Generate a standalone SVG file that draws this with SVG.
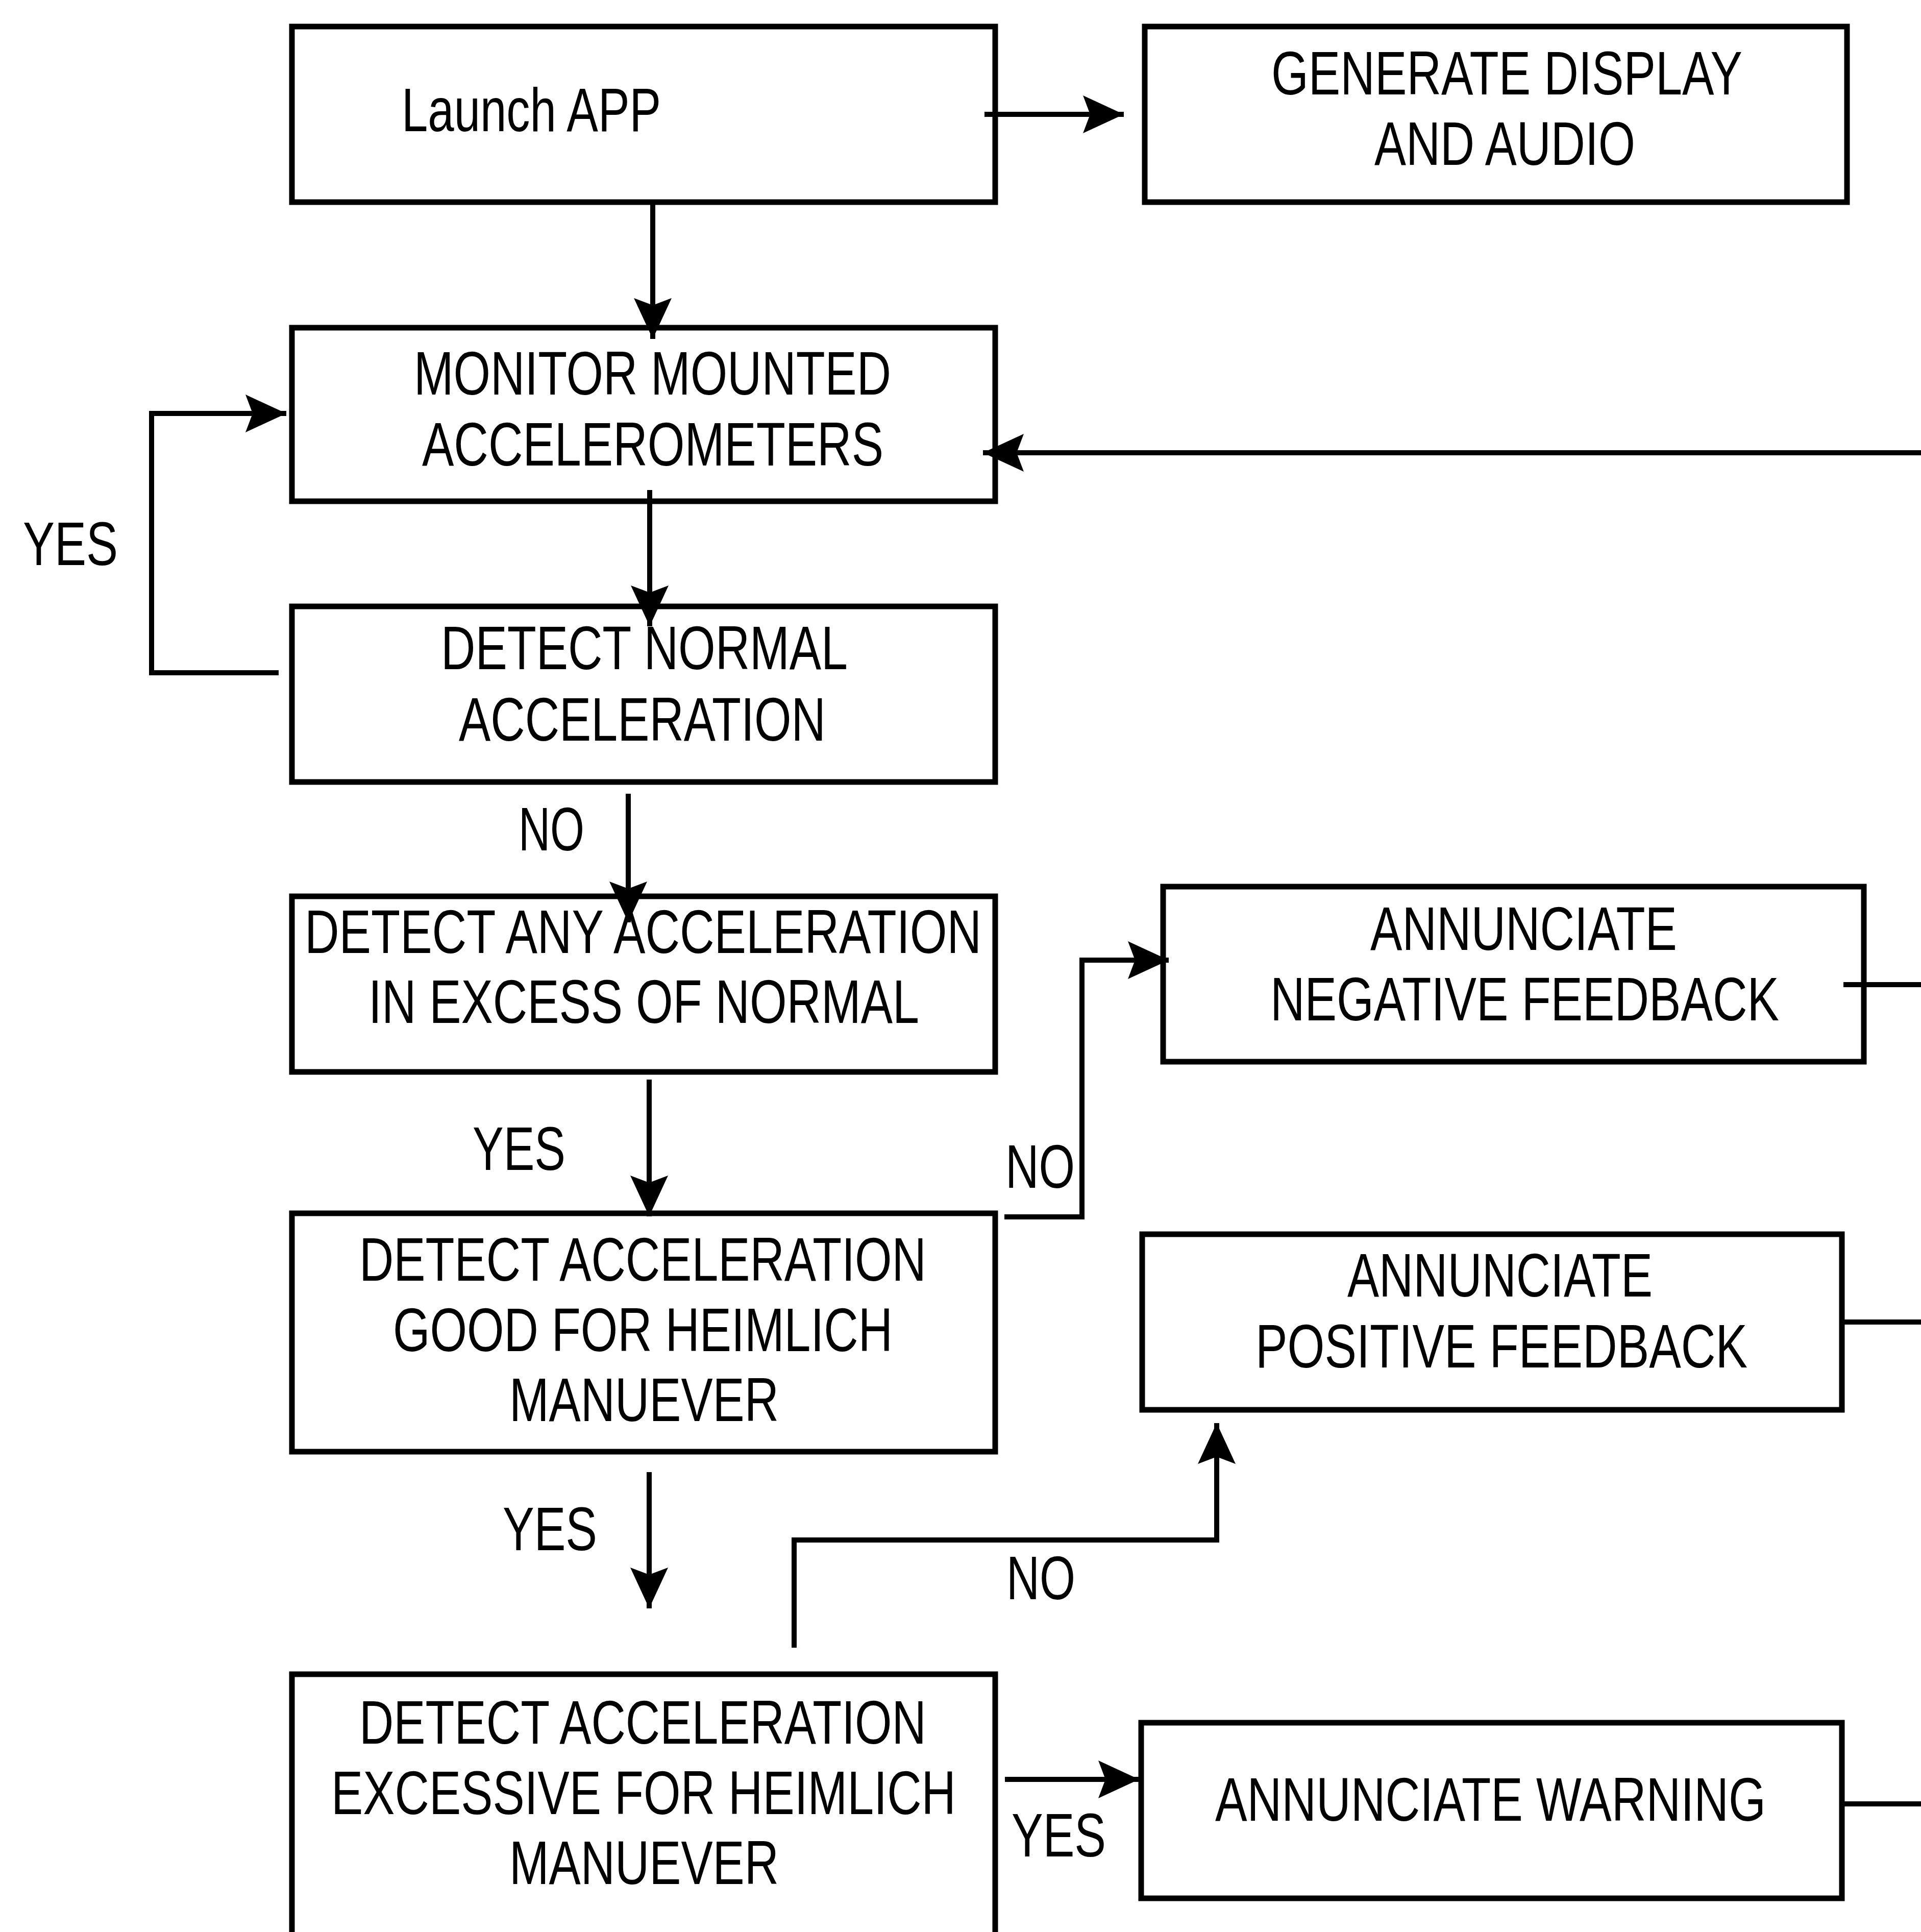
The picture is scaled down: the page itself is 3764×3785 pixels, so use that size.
<svg xmlns="http://www.w3.org/2000/svg" width="3764" height="3785" viewBox="0 0 3764 3785">
<style>
.box{fill:#fff;stroke:#000;stroke-width:11}
.t{font-family:"Liberation Sans",Arial,sans-serif;font-size:120px;fill:#000}
.c{fill:none;stroke:#000;stroke-width:10}
</style>
<defs>
<marker id="ah" markerUnits="userSpaceOnUse" markerWidth="80" markerHeight="74" refX="80" refY="37" orient="auto" overflow="visible">
<path d="M80,37 L0,0 L14,37 L0,74 Z" fill="#000"/>
</marker>
</defs>
<rect width="3764" height="3785" fill="#fff"/>
<g id="launch">
<rect class="box" x="572" y="52" width="1378" height="344"/>
<text class="t" x="787" y="257" textLength="508" lengthAdjust="spacingAndGlyphs">Launch APP</text>
</g>
<g id="generate">
<rect class="box" x="2243" y="52" width="1376" height="344"/>
<text class="t" x="2491" y="185" textLength="923" lengthAdjust="spacingAndGlyphs">GENERATE DISPLAY</text>
<text class="t" x="2693" y="323" textLength="511" lengthAdjust="spacingAndGlyphs">AND AUDIO</text>
</g>
<g id="monitor">
<rect class="box" x="572" y="642" width="1378" height="340"/>
<text class="t" x="811" y="773" textLength="935" lengthAdjust="spacingAndGlyphs">MONITOR MOUNTED</text>
<text class="t" x="827" y="912" textLength="904" lengthAdjust="spacingAndGlyphs">ACCELEROMETERS</text>
</g>
<g id="normal">
<rect class="box" x="572" y="1188" width="1378" height="344"/>
<text class="t" x="864" y="1311" textLength="797" lengthAdjust="spacingAndGlyphs">DETECT NORMAL</text>
<text class="t" x="899" y="1451" textLength="719" lengthAdjust="spacingAndGlyphs">ACCELERATION</text>
</g>
<g id="excess">
<rect class="box" x="572" y="1756" width="1378" height="344"/>
<text class="t" x="597" y="1867" textLength="1326" lengthAdjust="spacingAndGlyphs">DETECT ANY ACCELERATION</text>
<text class="t" x="722" y="2004" textLength="1079" lengthAdjust="spacingAndGlyphs">IN EXCESS OF NORMAL</text>
</g>
<g id="good">
<rect class="box" x="572" y="2377" width="1378" height="467"/>
<text class="t" x="704" y="2509" textLength="1111" lengthAdjust="spacingAndGlyphs">DETECT ACCELERATION</text>
<text class="t" x="770" y="2647" textLength="979" lengthAdjust="spacingAndGlyphs">GOOD FOR HEIMLICH</text>
<text class="t" x="998" y="2784" textLength="528" lengthAdjust="spacingAndGlyphs">MANUEVER</text>
</g>
<g id="excessive">
<rect class="box" x="572" y="3280" width="1378" height="560"/>
<text class="t" x="704" y="3416" textLength="1111" lengthAdjust="spacingAndGlyphs">DETECT ACCELERATION</text>
<text class="t" x="649" y="3554" textLength="1224" lengthAdjust="spacingAndGlyphs">EXCESSIVE FOR HEIMLICH</text>
<text class="t" x="998" y="3691" textLength="528" lengthAdjust="spacingAndGlyphs">MANUEVER</text>
</g>
<g id="negative">
<rect class="box" x="2279" y="1737" width="1373" height="343"/>
<text class="t" x="2685" y="1861" textLength="601" lengthAdjust="spacingAndGlyphs">ANNUNCIATE</text>
<text class="t" x="2489" y="1999" textLength="997" lengthAdjust="spacingAndGlyphs">NEGATIVE FEEDBACK</text>
</g>
<g id="positive">
<rect class="box" x="2238" y="2418" width="1371" height="344"/>
<text class="t" x="2640" y="2540" textLength="598" lengthAdjust="spacingAndGlyphs">ANNUNCIATE</text>
<text class="t" x="2460" y="2679" textLength="964" lengthAdjust="spacingAndGlyphs">POSITIVE FEEDBACK</text>
</g>
<g id="warning">
<rect class="box" x="2236" y="3375" width="1373" height="344"/>
<text class="t" x="2381" y="3567" textLength="1079" lengthAdjust="spacingAndGlyphs">ANNUNCIATE WARNING</text>
</g>
<g id="connectors">
<path class="c" d="M1929,224 H2202" marker-end="url(#ah)"/>
<path class="c" d="M1279,396 V664" marker-end="url(#ah)"/>
<path class="c" d="M1273,960 V1227" marker-end="url(#ah)"/>
<path class="c" d="M546,1318 H297 V810 H561" marker-end="url(#ah)"/>
<path class="c" d="M3764,887 H1926" marker-end="url(#ah)"/>
<path class="c" d="M1231,1555 V1807" marker-end="url(#ah)"/>
<path class="c" d="M1272,2115 V2383" marker-end="url(#ah)"/>
<path class="c" d="M1272,2884 V3151" marker-end="url(#ah)"/>
<path class="c" d="M1968,2384 H2120 V1881 H2290" marker-end="url(#ah)"/>
<path class="c" d="M1556,3228 V3017 H2384 V2788" marker-end="url(#ah)"/>
<path class="c" d="M1969,3486 H2232" marker-end="url(#ah)"/>
<path class="c" d="M3612,1929 H3764"/>
<path class="c" d="M3609,2590 H3764"/>
<path class="c" d="M3609,3534 H3764"/>
</g>
<g id="labels">
<text class="t" x="45" y="1107" textLength="186" lengthAdjust="spacingAndGlyphs">YES</text>
<text class="t" x="1016" y="1666" textLength="129" lengthAdjust="spacingAndGlyphs">NO</text>
<text class="t" x="926" y="2292" textLength="182" lengthAdjust="spacingAndGlyphs">YES</text>
<text class="t" x="1970" y="2327" textLength="136" lengthAdjust="spacingAndGlyphs">NO</text>
<text class="t" x="985" y="3037" textLength="185" lengthAdjust="spacingAndGlyphs">YES</text>
<text class="t" x="1972" y="3133" textLength="135" lengthAdjust="spacingAndGlyphs">NO</text>
<text class="t" x="1982" y="3637" textLength="185" lengthAdjust="spacingAndGlyphs">YES</text>
</g>
</svg>
